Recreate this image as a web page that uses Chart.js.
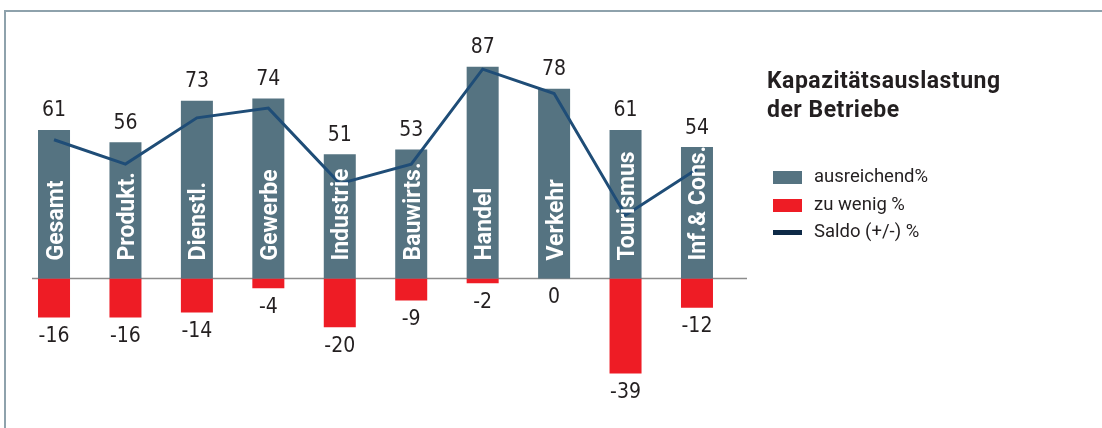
<!DOCTYPE html>
<html>
<head>
<meta charset="utf-8">
<script src="https://cdn.jsdelivr.net/npm/chart.js@4.4.1/dist/chart.umd.min.js"></script>
<style>
  html, body { margin: 0; padding: 0; background: #fff; }
  #wrap { position: relative; width: 1102px; height: 428px; overflow: hidden; }
  #frameTop { position: absolute; left: 4px; top: 10px; width: 1098px; height: 2px; background: #8ea2ac; }
  #frameLeft { position: absolute; left: 4px; top: 10px; width: 2px; height: 418px; background: #8ea2ac; }
  canvas { position: absolute; left: 0; top: 0; }
  #title { position: absolute; left: 767px; top: 66px; font-family: Roboto, sans-serif; font-weight: 700;
           font-size: 23px; letter-spacing: 0.5px; line-height: 29px; color: #231f20; margin: 0; }
  #legend { position: absolute; left: 773px; top: 164px; font-family: Roboto, sans-serif; font-size: 18.5px; color: #231f20; }
  .item { position: relative; height: 27.5px; }
  .sw { position: absolute; left: 0; width: 29px; }
  .lb { position: absolute; left: 41px; top: 1px; white-space: nowrap; }
</style>
</head>
<body>
<div id="wrap">
  <div id="frameTop"></div>
  <div id="frameLeft"></div>
  <canvas id="c" width="1102" height="428"></canvas>
  <div id="title">Kapazitätsauslastung<br>der Betriebe</div>
  <div id="legend"></div>
</div>
<script>
const categories = ["Gesamt", "Produkt.", "Dienstl.", "Gewerbe", "Industrie", "Bauwirts.", "Handel", "Verkehr", "Tourismus", "Inf.& Cons."];
const ausreichend = [61, 56, 73, 74, 51, 53, 87, 78, 61, 54];
const zuWenig = [-16, -16, -14, -4, -20, -9, -2, 0, -39, -12];
const saldo = [57, 47, 66, 70, 39, 47, 86, 76, 26, 45];
const seriesNames = ["ausreichend%", "zu wenig %", "Saldo (+/-) %"];

const valueFont = '21px "Liberation Sans Narrow", "DejaVu Sans Condensed", sans-serif';
const catFont = 'bold 23px Roboto, sans-serif';

const labelPlugin = {
  id: 'labels',
  beforeDatasetsDraw(chart) {
    const ctx = chart.ctx;
    const y0 = chart.scales.y.getPixelForValue(0);
    ctx.save();
    ctx.strokeStyle = '#8c8c8c';
    ctx.lineWidth = 1.5;
    ctx.beginPath();
    ctx.moveTo(32, y0);
    ctx.lineTo(747, y0);
    ctx.stroke();
    ctx.restore();
  },
  afterDatasetsDraw(chart) {
    const ctx = chart.ctx;
    const y0 = chart.scales.y.getPixelForValue(0);
    ctx.save();
    const m0 = chart.getDatasetMeta(0);
    ctx.font = catFont;
    ctx.fillStyle = '#ffffff';
    ctx.textAlign = 'left';
    ctx.textBaseline = 'alphabetic';
    m0.data.forEach((bar, i) => {
      ctx.save();
      ctx.translate(bar.x + 8.5, y0 - 18);
      ctx.rotate(-Math.PI / 2);
      ctx.fillText(categories[i], 0, 0);
      ctx.restore();
    });
    ctx.font = valueFont;
    ctx.fillStyle = '#231f20';
    ctx.textAlign = 'center';
    ctx.textBaseline = 'middle';
    m0.data.forEach((bar, i) => {
      ctx.fillText(String(ausreichend[i]), bar.x, bar.y - 19);
    });
    const m1 = chart.getDatasetMeta(1);
    m1.data.forEach((bar, i) => {
      ctx.fillText(String(zuWenig[i]), bar.x, bar.y + 19);
    });
    ctx.restore();
  }
};

const chart = new Chart(document.getElementById('c'), {
  data: {
    labels: categories,
    datasets: [
      { type: 'bar', label: seriesNames[0], data: ausreichend, backgroundColor: '#557381',
        grouped: false, categoryPercentage: 1, barPercentage: 0.448, order: 2 },
      { type: 'bar', label: seriesNames[1], data: zuWenig, backgroundColor: '#ee1c25',
        grouped: false, categoryPercentage: 1, barPercentage: 0.448, order: 3 },
      { type: 'line', label: seriesNames[2], data: saldo, borderColor: '#1f4d77', backgroundColor: '#0e2a47',
        borderWidth: 3, pointRadius: 0, tension: 0, fill: false, order: 1 }
    ]
  },
  options: {
    responsive: false,
    animation: false,
    devicePixelRatio: 1,
    layout: { padding: { left: 18.3, right: 369.3, top: 35.1, bottom: 27.8 } },
    scales: {
      x: { display: false },
      y: { display: false, min: -50, max: 100 }
    },
    plugins: { legend: { display: false }, tooltip: { enabled: false } }
  },
  plugins: [labelPlugin]
});

const legendEl = document.getElementById('legend');
chart.data.datasets.forEach(ds => {
  const item = document.createElement('div');
  item.className = 'item';
  const sw = document.createElement('div');
  sw.className = 'sw';
  if (ds.type === 'line') {
    sw.style.height = '5px'; sw.style.top = '11px'; sw.style.background = ds.backgroundColor;
  } else {
    sw.style.height = '13px'; sw.style.top = '7px'; sw.style.background = ds.backgroundColor;
  }
  const lb = document.createElement('div');
  lb.className = 'lb';
  lb.textContent = ds.label;
  item.appendChild(sw); item.appendChild(lb);
  legendEl.appendChild(item);
});
</script>
</body>
</html>
